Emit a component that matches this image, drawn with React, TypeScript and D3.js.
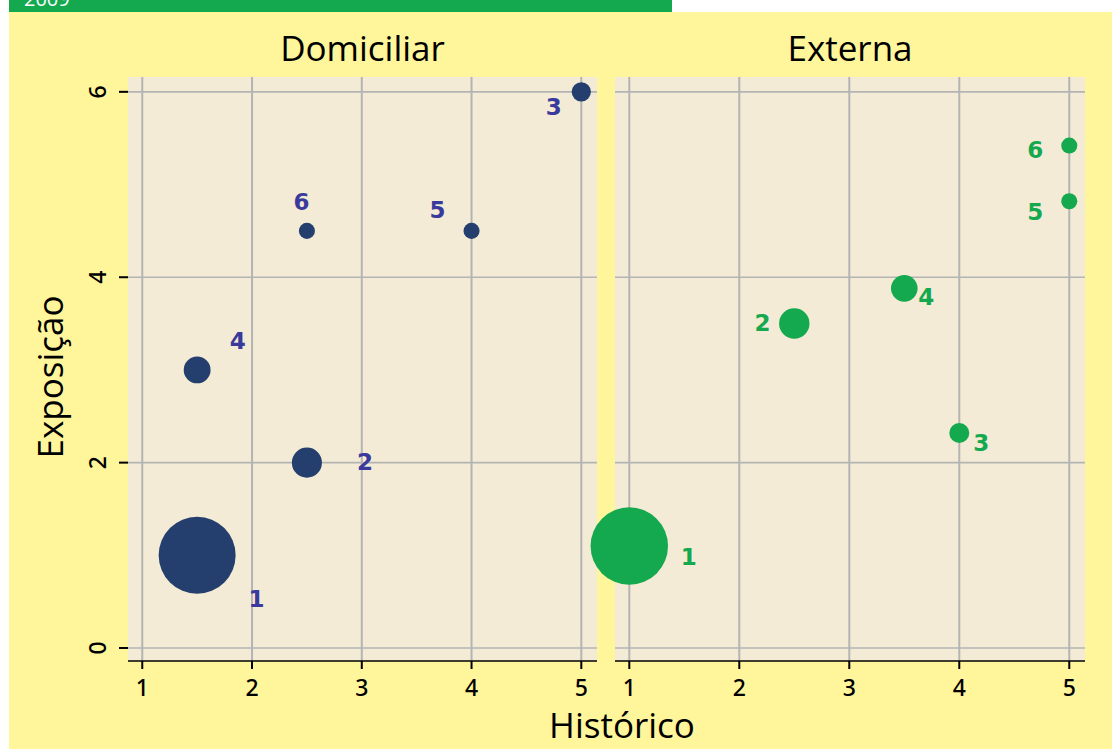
import React from "react";
import * as d3 from "d3";

const W = 1112;
const H = 749;

const panelNames = ["Domiciliar", "Externa"];
const historicoTicks = [1, 2, 3, 4, 5];
const exposicaoTicks = [0, 2, 4, 6];
const pointIds = ["1", "2", "3", "4", "5", "6"];

const domHistorico = [1.5, 2.5, 5, 1.5, 4, 2.5];
const domExposicao = [1.0, 2.0, 6.0, 3.0, 4.5, 4.5];
const domSize = [23, 3.5, 1.45, 2.8, 1, 1];
const domLabelX = [2.04, 3.03, 4.75, 1.87, 3.69, 2.45];
const domLabelY = [0.53, 2.01, 5.84, 3.31, 4.73, 4.81];

const extHistorico = [1, 2.5, 4, 3.5, 5, 5];
const extExposicao = [1.1, 3.5, 2.32, 3.88, 4.82, 5.42];
const extSize = [23.3, 3.6, 1.55, 2.75, 1, 1];
const extLabelX = [1.54, 2.21, 4.2, 3.7, 4.69, 4.69];
const extLabelY = [0.98, 3.51, 2.21, 3.79, 4.71, 5.38];

const bannerLabel = "2009";
const xTitle = "Histórico";
const yTitle = "Exposição";

const YELLOW = "#FFF59A";
const PANEL_BG = "#F3EBD5";
const GRID = "#B4B4B4";
const NAVY = "#243F6E";
const PURPLE = "#3A3A9C";
const GREEN = "#14A84F";

const TITLE_FONT = "'Open Sans', 'Noto Sans', sans-serif";
const TICK_FONT = "'Noto Sans', 'Open Sans', sans-serif";
const LABEL_FONT = "'DejaVu Sans', 'Noto Sans', sans-serif";

export default function App() {
  const top = 77;
  const bottom = 661;
  const panels = [
    { name: panelNames[0], left: 128, width: 469, xs: domHistorico, ys: domExposicao, ss: domSize, lx: domLabelX, ly: domLabelY, fill: NAVY, text: PURPLE },
    { name: panelNames[1], left: 615, width: 470, xs: extHistorico, ys: extExposicao, ss: extSize, lx: extLabelX, ly: extLabelY, fill: GREEN, text: GREEN },
  ];
  const y = d3.scaleLinear().domain([-0.14, 6.16]).range([bottom, top]);
  const r = d3.scaleSqrt().domain([0, 24]).range([0, 39.3]);

  return (
    <svg width={W} height={H} style={{ position: "absolute", left: 0, top: 0, display: "block" }}>
      <rect x={0} y={0} width={W} height={H} fill="#ffffff" />
      <rect x={9} y={12} width={W - 9} height={H - 12} fill={YELLOW} />
      <rect x={9} y={0} width={663} height={12} fill={GREEN} />
      <text x={24} y={6} fill="#ffffff" fontFamily={TITLE_FONT} fontSize={20}>{bannerLabel}</text>

      {panels.map((p, pi) => {
        const x = d3.scaleLinear().domain([0.87, 5.143]).range([p.left, p.left + p.width]);
        return (
          <g key={p.name}>
            <rect x={p.left} y={top} width={p.width} height={bottom - top} fill={PANEL_BG} />
            {exposicaoTicks.map((t) => (
              <line key={"h" + t} x1={p.left} x2={p.left + p.width} y1={y(t)} y2={y(t)} stroke={GRID} strokeWidth={1.6} />
            ))}
            {historicoTicks.map((t) => (
              <line key={"v" + t} x1={x(t)} x2={x(t)} y1={top} y2={bottom} stroke={GRID} strokeWidth={2} />
            ))}
            <line x1={p.left} x2={p.left + p.width} y1={bottom} y2={bottom} stroke="#000" strokeWidth={1.5} />
            {historicoTicks.map((t) => (
              <g key={"xt" + t}>
                <line x1={x(t)} x2={x(t)} y1={bottom} y2={bottom + 8} stroke="#000" strokeWidth={2} />
                <text x={x(t)} y={696} textAnchor="middle" fontFamily={TICK_FONT} fontSize={23} fontWeight={500} fill="#000">{t}</text>
              </g>
            ))}
            {pi === 0 &&
              exposicaoTicks.map((t) => (
                <g key={"yt" + t}>
                  <line x1={p.left - 9} x2={p.left} y1={y(t)} y2={y(t)} stroke="#000" strokeWidth={2} />
                  <text transform={`translate(106,${y(t)}) rotate(-90)`} textAnchor="middle" fontFamily={TICK_FONT} fontSize={23} fontWeight={500} fill="#000">{t}</text>
                </g>
              ))}
            <text x={p.left + p.width / 2} y={61} textAnchor="middle" fontFamily={TITLE_FONT} fontSize={35} fontWeight={500} fill="#000">{p.name}</text>
            {pointIds.map((id, i) => (
              <circle key={"c" + id} cx={x(p.xs[i])} cy={y(p.ys[i])} r={r(p.ss[i])} fill={p.fill} />
            ))}
            {pointIds.map((id, i) => (
              <text key={"l" + id} x={x(p.lx[i])} y={y(p.ly[i])} dy="0.36em" textAnchor="middle" fontFamily={LABEL_FONT} fontWeight={700} fontSize={23} fill={p.text}>{id}</text>
            ))}
          </g>
        );
      })}

      <text x={622} y={738} textAnchor="middle" fontFamily={TITLE_FONT} fontSize={35} fontWeight={500} fill="#000">{xTitle}</text>
      <text transform="translate(63,377) rotate(-90)" textAnchor="middle" fontFamily={TITLE_FONT} fontSize={35} fontWeight={500} fill="#000">{yTitle}</text>
    </svg>
  );
}
